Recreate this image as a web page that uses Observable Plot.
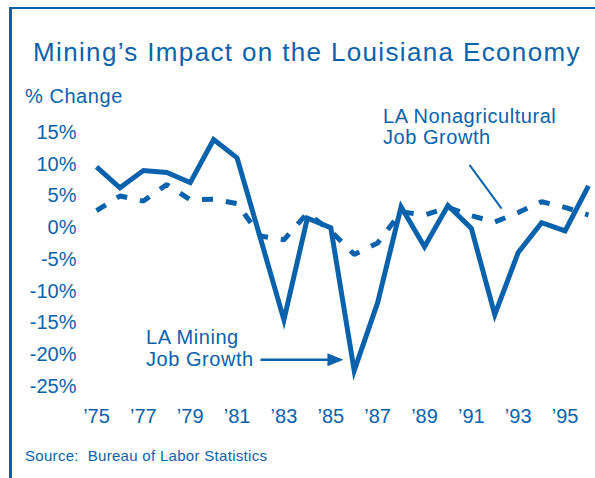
<!DOCTYPE html>
<html><head><meta charset="utf-8">
<script src="https://cdn.jsdelivr.net/npm/d3@7"></script>
<script src="https://cdn.jsdelivr.net/npm/@observablehq/plot@0.6"></script>
<style>
html,body{margin:0;padding:0;background:#fff;}
#wrap{position:relative;width:595px;height:478px;overflow:hidden;}
#frame{position:absolute;left:9px;top:7px;width:700px;height:600px;border-left:3px solid #0a62ad;border-top:2.5px solid #0a62ad;}
#chart{position:absolute;left:0;top:0;}
</style></head><body>
<div id="wrap"><div id="frame"></div><div id="chart"></div></div>
<script>
const years = [1975,1976,1977,1978,1979,1980,1981,1982,1983,1984,1985,1986,1987,1988,1989,1990,1991,1992,1993,1994,1995,1996];
const miningGrowth = [9.6,6.3,9.0,8.7,7.1,13.9,11.0,-1.7,-14.5,1.5,0.0,-22.5,-11.8,3.3,-3.0,3.5,-0.1,-13.7,-3.9,0.8,-0.5,6.6];
const nonagGrowth = [2.7,5.0,4.2,6.8,4.4,4.5,3.8,-1.3,-1.9,2.3,-0.5,-4.2,-2.4,2.5,2.0,3.2,1.9,0.9,2.4,4.1,3.2,2.0];
const xTicks = [1975,1977,1979,1981,1983,1985,1987,1989,1991,1993,1995];
const yTicks = [-25,-20,-15,-10,-5,0,5,10,15];

const C = "#0a62ad";
const FONT = "'Liberation Sans', Arial, Helvetica, sans-serif";
const rows = years.map((y,i)=>({year:y, mining:miningGrowth[i], nonag:nonagGrowth[i]}));

const arrowHead = {draw(ctx){ctx.moveTo(0,0);ctx.lineTo(-16,-6.5);ctx.lineTo(-16,6.5);ctx.closePath();}};

const chart = Plot.plot({
  width:595, height:478,
  marginLeft:96, marginRight:7, marginTop:132, marginBottom:92,
  style:{fontFamily:FONT, fontSize:"20px", color:C, background:"transparent", overflow:"visible"},
  x:{domain:[1975,1996], ticks:xTicks, tickFormat:d=>"\u2019"+String(d).slice(2), tickSize:0, tickPadding:22, label:null},
  y:{domain:[-25,15], ticks:yTicks, tickFormat:d=>d+"%", tickSize:0, tickPadding:20, label:null},
  marks:[
    Plot.line(rows,{x:"year",y:"nonag",stroke:C,strokeWidth:5,strokeDasharray:"11,13",strokeLinecap:"butt",strokeLinejoin:"miter"}),
    Plot.line(rows,{x:"year",y:"mining",stroke:C,strokeWidth:5,strokeLinejoin:"miter",strokeLinecap:"butt",strokeMiterlimit:10}),
    Plot.link([0],{x1:1982.0,y1:-20.8,x2:1985.0,y2:-20.8,stroke:C,strokeWidth:2.5}),
    Plot.dot([0],{x:1985.54,y:-20.8,symbol:arrowHead,fill:C,stroke:"none",r:5}),
    Plot.link([0],{x1:1990.92,y1:9.9,x2:1992.29,y2:3.0,stroke:C,strokeWidth:2})
  ]
});
document.getElementById("chart").appendChild(chart);

const svg = d3.select(chart);
function txt(x,y,s,size,ls){
  return svg.append("text").attr("x",x).attr("y",y).attr("fill",C)
    .attr("text-anchor","start").attr("letter-spacing",ls)
    .attr("font-family",FONT).attr("font-size",size).style("white-space","pre").text(s);
}
txt(33,60.7,"Mining\u2019s Impact on the Louisiana Economy",26,1.35);
txt(25,102.7,"% Change",20,0.55);
txt(383,122.7,"LA Nonagricultural",20,0.55);
txt(383,143.5,"Job Growth",20,0.55);
txt(146,344,"LA Mining",20,0.55);
txt(146,366,"Job Growth",20,0.55);
txt(25,461,"Source:  Bureau of Labor Statistics",15,0.3);
</script>
</body></html>
